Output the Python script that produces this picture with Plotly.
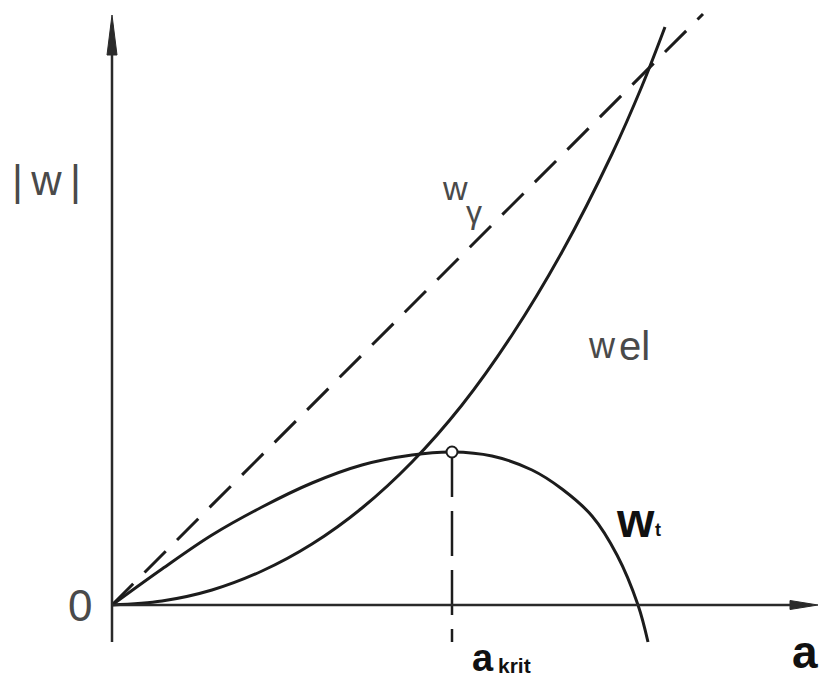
import plotly.graph_objects as go

# Energy terms versus crack length a (arbitrary units)
a_gamma = [0.0, 5.91]
w_gamma = [0.0, 5.91]

a_el = [0.0, 0.5, 1.0, 1.5, 2.0, 2.5, 3.0, 3.5, 4.0, 4.5, 5.0, 5.3, 5.53]
w_el = [0.0, 0.04, 0.15, 0.34, 0.61, 0.97, 1.43, 2.00, 2.70, 3.53, 4.51, 5.19, 5.78]

a_t = [0.0, 0.5, 1.0, 1.5, 2.0, 2.5, 3.0, 3.4, 3.8, 4.2, 4.5, 4.8, 5.05, 5.26, 5.36]
w_t = [0.0, 0.36, 0.70, 0.98, 1.22, 1.40, 1.50, 1.53, 1.49, 1.35, 1.16, 0.89, 0.50, 0.0, -0.37]

a_krit = 3.40
w_t_max = 1.53

x_axis_end = 7.06
y_axis_end = 5.90
axis_bottom = -0.37

INK = "#1c1c1c"
AXIS = "#2a2a2a"
GREY_TXT = "#4a4a4a"

fig = go.Figure()

# w_gamma: dashed straight line
fig.add_trace(go.Scatter(x=a_gamma, y=w_gamma, mode="lines",
                         line=dict(color=INK, width=3, dash="30px,16px")))
# w_el: convex curve
fig.add_trace(go.Scatter(x=a_el, y=w_el, mode="lines",
                         line=dict(color=INK, width=3, shape="spline", smoothing=1.0)))
# w_t: curve with maximum at a_krit
fig.add_trace(go.Scatter(x=a_t, y=w_t, mode="lines",
                         line=dict(color=INK, width=3, shape="spline", smoothing=1.0)))
# vertical dashed drop from the maximum
fig.add_trace(go.Scatter(x=[a_krit, a_krit], y=[w_t_max, axis_bottom], mode="lines",
                         line=dict(color=INK, width=2.5, dash="45px,14px")))

shapes = [
    # axes
    dict(type="line", xref="x", yref="y", x0=0, y0=axis_bottom, x1=0, y1=y_axis_end - 0.1,
         line=dict(color=AXIS, width=2.5)),
    dict(type="line", xref="x", yref="y", x0=0, y0=0, x1=x_axis_end - 0.1, y1=0,
         line=dict(color=AXIS, width=2.5)),
    # arrow heads
    dict(type="path", xref="x", yref="y",
         path=f"M {-0.05},{y_axis_end - 0.40} L 0,{y_axis_end} L {0.05},{y_axis_end - 0.40} Z",
         fillcolor=AXIS, line=dict(color=AXIS, width=1)),
    dict(type="path", xref="x", yref="y",
         path=f"M {x_axis_end - 0.28},{-0.045} L {x_axis_end},0 L {x_axis_end - 0.28},{0.045} Z",
         fillcolor=AXIS, line=dict(color=AXIS, width=1)),
]

# open circle at the maximum
fig.add_trace(go.Scatter(x=[a_krit], y=[w_t_max], mode="markers",
                         marker=dict(size=11, color="white", line=dict(color=INK, width=2))))

ann = []
def label(x, y, text, size, color, family="Liberation Sans, Arial", bold=False,
          xanchor="center", yanchor="middle"):
    t = f"<b>{text}</b>" if bold else text
    ann.append(dict(x=x, y=y, xref="x", yref="y", text=t, showarrow=False,
                    xanchor=xanchor, yanchor=yanchor,
                    font=dict(size=size, color=color, family=family)))

label(-0.66, 4.25, "|\u2009w\u2009|", 42, GREY_TXT)
label(-0.32, 0.0, "0", 44, GREY_TXT)
label(3.43, 4.17, "w", 34, GREY_TXT)
label(3.62, 3.93, "γ", 32, GREY_TXT)
label(4.90, 2.60, "w", 36, GREY_TXT)
label(5.22, 2.59, "el", 40, GREY_TXT)
label(5.23, 0.85, "w", 48, "#111111", bold=True)
label(5.46, 0.75, "t", 18, "#111111", bold=True)
label(3.71, -0.755, "a", 38, "#111111", bold=True, yanchor="bottom")
label(4.02, -0.60, "krit", 21, "#111111", bold=True)
label(6.93, -0.745, "a", 46, "#111111", bold=True, yanchor="bottom")

fig.update_layout(
    width=823, height=682,
    margin=dict(l=0, r=0, t=0, b=0),
    paper_bgcolor="white", plot_bgcolor="white",
    showlegend=False,
    shapes=shapes,
    annotations=ann,
    xaxis=dict(range=[-1.12, 7.11], visible=False, fixedrange=True),
    yaxis=dict(range=[-0.77, 6.05], visible=False, fixedrange=True),
)

fig.write_html("out.html")
